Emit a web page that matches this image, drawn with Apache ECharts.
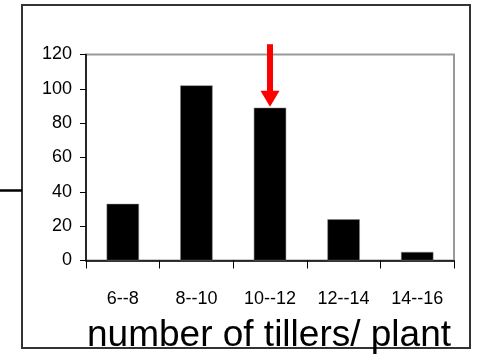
<!DOCTYPE html>
<html>
<head>
<meta charset="utf-8">
<script src="https://cdn.jsdelivr.net/npm/echarts@6/dist/echarts.min.js"></script>
<style>
  html, body { margin: 0; padding: 0; background: #fff; }
  #main { width: 477px; height: 354px; }
</style>
</head>
<body>
<div id="main"></div>
<script>
// tiller classes and plant counts
var categories = ['6--8', '8--10', '10--12', '12--14', '14--16'];
var plants = [33, 102, 89, 24, 5];
var yTicks = [0, 20, 40, 60, 80, 100, 120];
// the red arrow points at the third class (values on the y scale)
var arrowCategory = '10--12';
var arrowFrom = 126;
var arrowTo = 89.5;

var tickFont = 'Liberation Sans, Arial, sans-serif';

var myChart = echarts.init(document.getElementById('main'));

var option = {
    animation: false,
    backgroundColor: '#fff',
    title: {
        text: 'number of tillers/ plant',
        left: 264,
        top: 312,
        textAlign: 'center',
        textStyle: {
            fontFamily: 'Liberation Sans, Arial, sans-serif',
            fontSize: 37,
            fontWeight: 'normal',
            color: '#000'
        }
    },
    grid: {
        left: 86,
        top: 54.5,
        right: 23,
        bottom: 93.5,
        show: true,
        borderColor: '#999',
        borderWidth: 2,
        backgroundColor: '#fff'
    },
    xAxis: {
        type: 'category',
        data: categories,
        boundaryGap: true,
        axisLine: { lineStyle: { color: '#000', width: 1.5 } },
        axisTick: { show: true, length: 8, alignWithLabel: false, lineStyle: { color: '#000' } },
        axisLabel: {
            margin: 30,
            fontFamily: tickFont,
            fontSize: 18,
            color: '#000'
        },
        splitLine: { show: false }
    },
    yAxis: {
        type: 'value',
        min: yTicks[0],
        max: yTicks[yTicks.length - 1],
        interval: 20,
        axisLine: { show: true, lineStyle: { color: '#000', width: 1.5 } },
        axisTick: { show: true, length: 6, lineStyle: { color: '#000' } },
        axisLabel: {
            margin: 14,
            fontFamily: tickFont,
            fontSize: 18,
            color: '#000'
        },
        splitLine: { show: false }
    },
    series: [
        {
            name: 'plants',
            type: 'bar',
            data: plants,
            barWidth: '44%',
            itemStyle: {
                color: '#000',
                borderColor: '#888',
                borderWidth: 0.5
            }
        }
    ]
};

myChart.setOption(option);

// arrow placed through the chart's own scales
var arrowStart = myChart.convertToPixel({ seriesIndex: 0 }, [arrowCategory, arrowFrom]);
var arrowTip = myChart.convertToPixel({ seriesIndex: 0 }, [arrowCategory, arrowTo]);
var headH = 16, headW = 19, shaftW = 6;
myChart.setOption({
    graphic: [
        {
            id: 'frame',
            type: 'rect',
            shape: { x: 22, y: 5, width: 448, height: 343 },
            style: { fill: 'none', stroke: '#333', lineWidth: 2 },
            z: 0
        },
        {
            id: 'stray',
            type: 'line',
            shape: { x1: 0, y1: 190.5, x2: 22, y2: 190.5 },
            style: { stroke: '#000', lineWidth: 2.5 },
            z: 0
        },
        {
            id: 'shaft',
            type: 'rect',
            shape: {
                x: arrowStart[0] - shaftW / 2,
                y: arrowStart[1],
                width: shaftW,
                height: arrowTip[1] - headH - arrowStart[1] + 1
            },
            style: { fill: '#ff0000' },
            z: 10
        },
        {
            id: 'head',
            type: 'polygon',
            shape: {
                points: [
                    [arrowTip[0] - headW / 2, arrowTip[1] - headH],
                    [arrowTip[0] + headW / 2, arrowTip[1] - headH],
                    [arrowTip[0], arrowTip[1]]
                ]
            },
            style: { fill: '#ff0000' },
            z: 10
        }
    ]
});
</script>
</body>
</html>
